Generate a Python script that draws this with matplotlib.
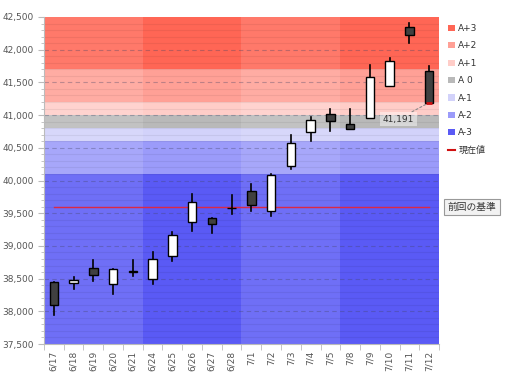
import matplotlib
matplotlib.use("Agg")
import matplotlib.pyplot as plt
from matplotlib.lines import Line2D
from matplotlib.patches import Patch, Rectangle
from matplotlib.ticker import FuncFormatter, MultipleLocator

plt.rcParams["font.family"] = ["DejaVu Sans", "Noto Sans CJK JP"]

dates = ["6/17", "6/18", "6/19", "6/20", "6/21", "6/24", "6/25", "6/26", "6/27", "6/28",
         "7/1", "7/2", "7/3", "7/4", "7/5", "7/8", "7/9", "7/10", "7/11", "7/12"]
opens = [38450, 38430, 38660, 38410, 38600, 38500, 38840, 39360, 39430, 39575,
         39840, 39540, 40220, 40740, 41010, 40860, 40950, 41440, 42340, 41670]
highs = [38450, 38520, 38790, 38640, 38790, 38900, 39210, 39790, 39430, 39780,
         39940, 40100, 40690, 40970, 41090, 41100, 41760, 41880, 42410, 41750]
lows = [37950, 38340, 38460, 38270, 38535, 38410, 38770, 39230, 39200, 39495,
        39530, 39460, 40180, 40600, 40750, 40780, 40950, 41440, 42100, 41191]
closes = [38100, 38480, 38560, 38640, 38610, 38800, 39170, 39670, 39340, 39585,
          39630, 40080, 40580, 40920, 40910, 40780, 41580, 41830, 42220, 41191]

# weeks drawn lighter (start index, end index)
light_weeks = [(0, 5), (10, 15)]

band_labels = ["A+3", "A+2", "A+1", "A 0", "A-1", "A-2", "A-3"]
band_edges = [42500, 41700, 41200, 41000, 40800, 40600, 40100, 37500]
band_colors = ["#ff6655", "#ffa096", "#ffcdc8", "#b9b9b9", "#d2d2fa", "#9b9bfa", "#5a5af5"]

prev_base = 39600
prev_label = "前回の基準"
current_value = 41191
current_label = "現在値"

fig = plt.figure(figsize=(5.09, 3.80), dpi=100)
ax = fig.add_axes([0.0864, 0.0947, 0.7761, 0.8606])

n = len(dates)
ax.set_xlim(-0.5, n - 0.5)
ax.set_ylim(37500, 42500)

# bands
for i, color in enumerate(band_colors):
    ax.axhspan(band_edges[i + 1], band_edges[i], color=color, lw=0, zorder=0)

# lighter weeks: white overlay
for s, e in light_weeks:
    ax.add_patch(Rectangle((s - 0.5, 37500), e - s, 5000, facecolor="white",
                           alpha=0.13, lw=0, zorder=0.5))

# grid lines
for y in range(37600, 42500, 100):
    if y % 500:
        ax.axhline(y, color="black", alpha=0.06, lw=0.8, zorder=1)
for y in range(38000, 42500, 500):
    ax.axhline(y, color="#444466", alpha=0.35, lw=0.8, ls=(0, (4, 3)), zorder=1)

# previous base line
ax.plot([0, n - 1], [prev_base, prev_base], color="#dc2846", lw=1.0, zorder=2)

# candles
w = 0.42
for i in range(n):
    o, h, l, c = opens[i], highs[i], lows[i], closes[i]
    ax.plot([i, i], [l, h], color="black", lw=1.2, zorder=3)
    lo, hi = min(o, c), max(o, c)
    fc = "white" if c >= o else "#404040"
    ax.add_patch(Rectangle((i - w / 2, lo), w, max(hi - lo, 8), facecolor=fc,
                           edgecolor="black", lw=1.0, zorder=4))

# current value marker
ax.plot([n - 1 - w / 2 + 0.05, n - 1 + w / 2 - 0.05], [current_value, current_value],
        color="#d01010", lw=2.0, zorder=5, solid_capstyle="butt")
ax.annotate(f"{current_value:,}", xy=(n - 1, current_value), xytext=(n - 2.55, 40940),
            fontsize=6.5, color="#333333", ha="center", va="center", zorder=6,
            bbox=dict(boxstyle="square,pad=0.3", facecolor="white", alpha=0.45, lw=0),
            arrowprops=dict(arrowstyle="-", color="#888888", lw=0.8, ls=(0, (2, 2)),
                            shrinkA=0, shrinkB=2))

# axes styling
ax.yaxis.set_major_locator(MultipleLocator(500))
ax.yaxis.set_minor_locator(MultipleLocator(100))
ax.yaxis.set_major_formatter(FuncFormatter(lambda v, p: f"{int(v):,}"))
ax.set_xticks(range(n))
ax.set_xticklabels(dates, rotation=90)
ax.set_xticks([i + 0.5 for i in range(-1, n)], minor=True)
ax.tick_params(axis="x", which="major", length=0, labelsize=6.5, labelcolor="#555555", pad=5)
ax.tick_params(axis="x", which="minor", length=4, color="#bbbbbb")
ax.tick_params(axis="y", which="major", length=4, color="#bbbbbb", labelsize=6.5,
               labelcolor="#555555")
ax.tick_params(axis="y", which="minor", length=2, color="#bbbbbb")
for side in ["top", "right"]:
    ax.spines[side].set_visible(False)
for side in ["left", "bottom"]:
    ax.spines[side].set_color("#bbbbbb")

# legend
handles = [Patch(facecolor=c, edgecolor="none") for c in band_colors]
handles.append(Line2D([0], [0], color="#d01010", lw=1.5))
labels = band_labels + [current_label]
leg = ax.legend(handles, labels, loc="upper left", bbox_to_anchor=(1.01, 0.995),
                frameon=False, fontsize=6.5, handlelength=0.7, handleheight=0.7,
                handletextpad=0.4, labelspacing=0.93, borderaxespad=0.2)
for t in leg.get_texts():
    t.set_color("#333333")

fig.text(0.927, 1 - 207 / 380, prev_label, fontsize=7, color="#333333", ha="center",
         va="center", family=["Noto Sans CJK JP"],
         bbox=dict(boxstyle="square,pad=0.35", facecolor="#f2f2f2", edgecolor="#999999", lw=0.8))

fig.savefig("out.png", dpi=100)
